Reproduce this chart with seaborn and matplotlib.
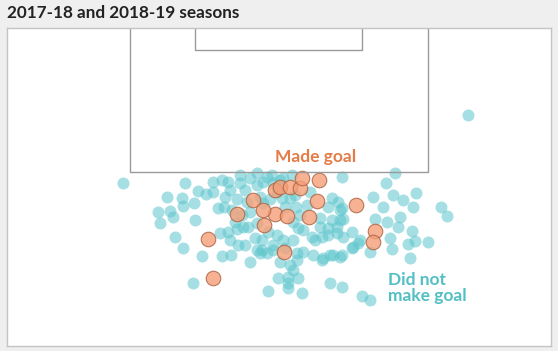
import matplotlib.pyplot as plt
import pandas as pd
import seaborn as sns

# shot positions in pixel units of the pitch panel
missed_x = [123, 468, 167, 182, 183, 185, 194, 198, 206, 213, 222, 228, 213, 225,
            240, 240, 250, 257, 263, 257, 267, 273, 280, 272, 283, 237, 247, 260,
            270, 277, 282, 290, 158, 170, 173, 160, 195, 218, 224, 250, 175, 183,
            202, 222, 231, 220, 228, 237, 235, 243, 248, 257, 255, 257, 262, 267,
            273, 260, 277, 283, 273, 280, 290, 293, 278, 268, 288, 288, 298, 302,
            193, 342, 332, 338, 328, 340, 320, 332, 340, 320, 328, 337, 298, 303,
            312, 315, 322, 328, 337, 343, 352, 358, 352, 342, 333, 323, 313, 303,
            297, 293, 285, 297, 322, 330, 340, 395, 386, 373, 393, 403, 416, 383,
            413, 441, 447, 400, 375, 387, 398, 412, 428, 415, 408, 390, 392, 410,
            370, 360, 353, 343, 342, 330, 342, 288, 362, 370, 292, 295, 310, 307,
            296, 285, 263, 245, 230, 232, 242, 300, 293, 268, 262, 245, 238, 250,
            230]
missed_y = [183, 115, 197, 198, 206, 183, 203, 191, 194, 182, 180, 182, 192, 197,
            175, 183, 178, 173, 182, 185, 177, 183, 180, 175, 178, 199, 202, 197,
            199, 192, 198, 198, 212, 211, 217, 223, 220, 208, 207, 212, 237, 248,
            256, 256, 255, 233, 232, 229, 222, 227, 227, 223, 238, 250, 250, 253,
            250, 253, 235, 240, 245, 262, 265, 270, 278, 291, 283, 288, 278, 293,
            283, 177, 198, 202, 207, 210, 218, 220, 220, 227, 228, 227, 228, 230,
            237, 240, 237, 235, 233, 237, 232, 243, 248, 255, 255, 258, 255, 252,
            253, 240, 248, 260, 260, 255, 257, 173, 183, 197, 195, 200, 193, 207,
            207, 207, 216, 217, 219, 222, 227, 231, 242, 241, 244, 238, 249, 258,
            252, 240, 247, 219, 208, 283, 287, 277, 296, 300, 175, 195, 192, 205,
            207, 207, 203, 190, 190, 210, 215, 215, 222, 232, 240, 245, 245, 262,
            240]
made_x = [275, 280, 290, 300, 302, 319, 317, 356, 275, 287, 309, 375, 373, 284,
          253, 237, 263, 264, 208, 213]
made_y = [190, 187, 187, 188, 178, 180, 201, 205, 214, 216, 217, 231, 242, 252,
          200, 214, 210, 225, 239, 278]

title = "2017-18 and 2018-19 seasons"
teal = "#5cc6cc"
orange = "#f59e78"

missed = pd.DataFrame({"x": missed_x, "y": missed_y})
made = pd.DataFrame({"x": made_x, "y": made_y})

sns.set_style("white")
plt.rcParams["font.family"] = ["Lato", "DejaVu Sans"]

fig = plt.figure(figsize=(5.58, 3.51), dpi=100, facecolor="#efefef")
ax = fig.add_axes([7 / 558, 5 / 351, 544 / 558, 318 / 351])
ax.set_facecolor("white")

# penalty box and goal area
ax.plot([130, 130, 428, 428], [28, 172, 172, 28], color="#9a9a9a", lw=1)
ax.plot([195, 195, 362, 362], [28, 50, 50, 28], color="#9a9a9a", lw=1)

sns.scatterplot(data=missed, x="x", y="y", ax=ax, color=teal, s=75,
                alpha=0.55, linewidth=0, legend=False)
sns.scatterplot(data=made, x="x", y="y", ax=ax, color=orange, s=110,
                alpha=0.8, edgecolor="#a8603e", linewidth=0.8, legend=False)

ax.set_xlim(7, 551)
ax.set_ylim(346, 28)
ax.set_xticks([])
ax.set_yticks([])
ax.set_xlabel("")
ax.set_ylabel("")
for side in ax.spines.values():
    side.set_color("#c4c4c4")
    side.set_linewidth(1)

ax.text(316, 157, "Made goal", color="#e37c47", fontsize=12.5,
        fontweight="bold", ha="center", va="center")
ax.text(388, 288, "Did not\nmake goal", color="#52bfc4", fontsize=12.5,
        fontweight="bold", ha="left", va="center", linespacing=1.0)

fig.text(7 / 558, 1 - 13 / 351, title, color="#222222", fontsize=12.3,
         fontweight="bold", ha="left", va="center")

fig.savefig("out.png", dpi=100, facecolor=fig.get_facecolor())
